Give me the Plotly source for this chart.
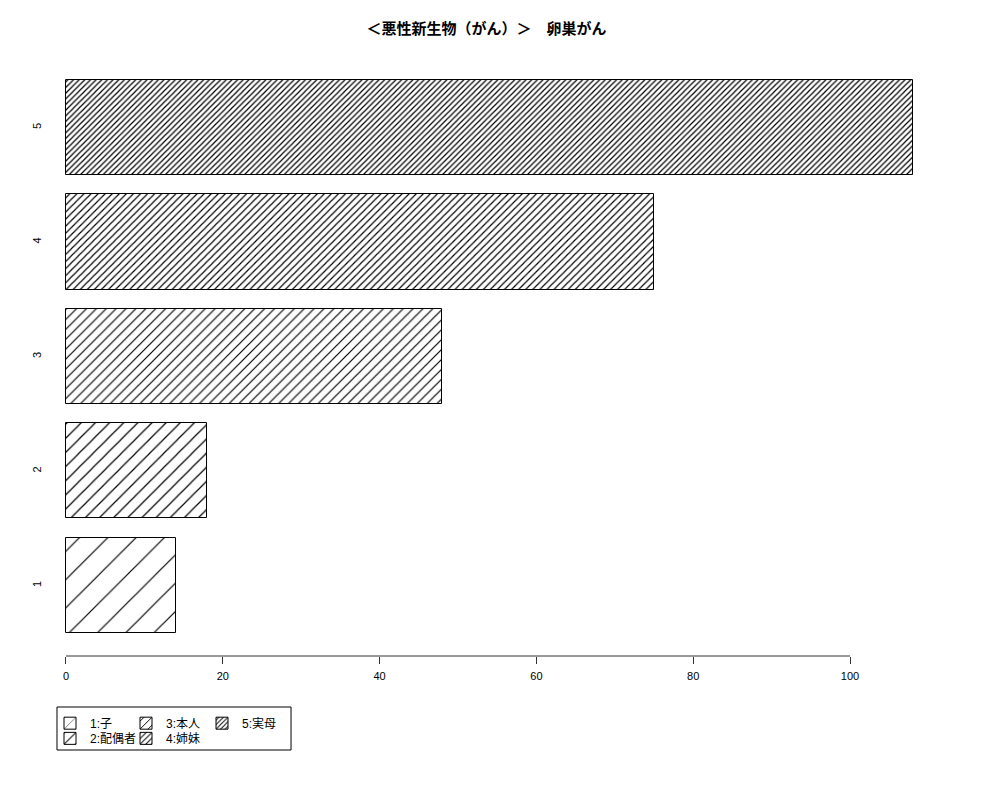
import plotly.graph_objects as go

categories = ["1", "2", "3", "4", "5"]
legend_names = ["1:子", "2:配偶者", "3:本人", "4:姉妹", "5:実母"]
values = [14, 18, 48, 75, 108]
pattern_sizes = [20, 10, 7, 5, 4]
legend_groups = ["legend", "legend2", "legend", "legend2", "legend"]
x_ticks = [0, 20, 40, 60, 80, 100]
title_text = "＜悪性新生物（がん）＞　卵巣がん"

fig = go.Figure()
for i, cat in enumerate(categories):
    s = pattern_sizes[i]
    fig.add_trace(go.Bar(
        y=[int(cat)], x=[values[i]], orientation="h", width=0.83,
        name=legend_names[i], legend=legend_groups[i],
        marker=dict(color="white", line=dict(color="black", width=1),
                    pattern=dict(shape="/", size=s, solidity=min(0.9, 1.2 / s),
                                 fgcolor="black", bgcolor="white")),
    ))

fig.add_shape(type="line", xref="x", yref="paper", x0=x_ticks[0], x1=x_ticks[-1],
              y0=0, y1=0, line=dict(color="#333", width=1))
# legend frame
fig.add_shape(type="rect", xref="paper", yref="paper", x0=0.0078, x1=0.2687,
              y0=-0.0853, y1=-0.1572, line=dict(color="black", width=1))

leg_common = dict(orientation="h", xanchor="left", yanchor="top",
                  bgcolor="rgba(0,0,0,0)", borderwidth=0,
                  entrywidth=31, itemwidth=30, traceorder="normal",
                  font=dict(family="Liberation Sans, Noto Sans CJK JP", size=12, color="black"))

fig.update_layout(
    template="none",
    width=1000, height=800,
    paper_bgcolor="white", plot_bgcolor="white",
    margin=dict(l=42, r=61, t=50, b=152),
    font=dict(family="Liberation Sans, Noto Sans CJK JP", size=11, color="black"),
    title=dict(text="<b>" + title_text + "</b>", x=0.4866, xref="paper", xanchor="center",
               y=0.974, yanchor="middle",
               font=dict(family="Noto Sans CJK JP", size=15, color="black")),
    xaxis=dict(range=[-2.04, 112.37], tickvals=x_ticks, ticks="outside", ticklen=7,
               tickcolor="#333", showline=False, showgrid=False, zeroline=False,
               ticklabelstandoff=3, tickfont=dict(size=11, color="black")),
    yaxis=dict(range=[0.384, 5.607], tickvals=[1, 2, 3, 4, 5], ticktext=categories,
               tickangle=-90, showline=False, showgrid=False, zeroline=False,
               ticks="", ticklabelstandoff=6, tickfont=dict(size=11, color="black")),
    showlegend=True,
    legend=dict(x=0, y=-0.0881, **leg_common),
    legend2=dict(x=0, y=-0.1135, **leg_common),
    bargap=0,
)

fig.write_html("out.html")
